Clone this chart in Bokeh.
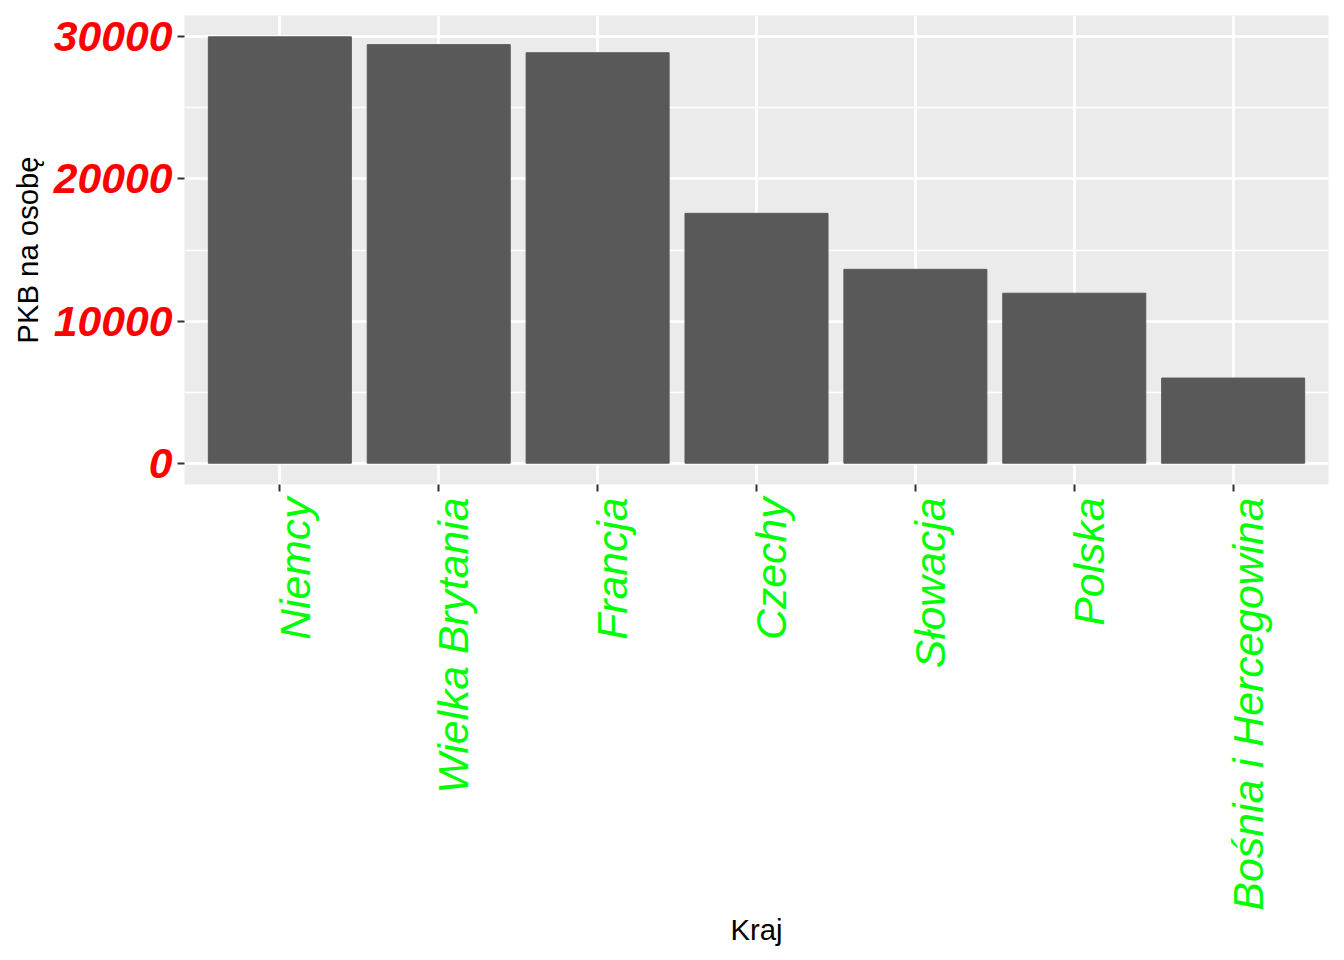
from math import pi

from bokeh.embed import file_html
from bokeh.models import FixedTicker, LinearAxis, Range1d, SingleIntervalTicker
from bokeh.plotting import figure
from bokeh.resources import INLINE

# dane
kraje = ["Niemcy", "Wielka Brytania", "Francja", "Czechy",
         "Słowacja", "Polska", "Bośnia i Hercegowina"]
pkb = [30000, 29450, 28880, 17580, 13640, 11960, 5990]

y_start, y_end = -1500, 31500
pad = 0.6      # margines osi X jak w ggplot (expand = 0.6 kategorii)
shift = 0.093  # przesuniecie etykiet X w prawo, jak w ggplot (hjust/vjust)

# kolejne kategorie na osi liczbowej: 1, 2, ..., n
poz = [i + 1 for i in range(len(kraje))]

p = figure(
    x_range=Range1d(1 - pad, len(kraje) + pad),
    y_range=Range1d(y_start, y_end),
    width=1336,
    height=952,
    min_border_left=184,
    min_border_right=8,
    min_border_top=15,
    min_border_bottom=468,
    toolbar_location=None,
    output_backend="svg",
)

p.vbar(x=poz, top=pkb, width=0.9, color="#595959")

p.background_fill_color = "#EBEBEB"
p.border_fill_color = "white"
p.outline_line_color = None

p.xaxis.ticker = FixedTicker(ticks=poz)
p.xgrid.ticker = FixedTicker(ticks=poz)
p.yaxis.ticker = SingleIntervalTicker(interval=10000, num_minor_ticks=2)

# siatka
p.xgrid.grid_line_color = "white"
p.xgrid.grid_line_width = 2.7
p.ygrid.grid_line_color = "white"
p.ygrid.grid_line_width = 2.7
p.ygrid.minor_grid_line_color = "white"
p.ygrid.minor_grid_line_width = 1.3

for ax in (p.xaxis, p.yaxis):
    ax.axis_line_color = None
    ax.major_tick_line_color = "#333333"
    ax.major_tick_line_width = 2
    ax.major_tick_out = 7
    ax.major_tick_in = 0
    ax.minor_tick_line_color = None
    ax.axis_label_text_font = "Liberation Sans"
    ax.axis_label_text_font_style = "normal"
    ax.axis_label_text_font_size = "29.3px"
    ax.axis_label_text_color = "black"
    ax.major_label_text_font = "Liberation Sans"
    ax.major_label_text_font_size = "42.7px"

p.yaxis.axis_label = "PKB na osobę"
p.yaxis.major_label_text_color = "#FF0000"
p.yaxis.major_label_text_font_style = "bold italic"
p.yaxis.major_label_standoff = 5
p.yaxis.axis_label_standoff = 7

# os kategorii: tylko kreski
p.xaxis.major_label_text_color = None
p.xaxis.major_label_standoff = 0

# druga os pod spodem: nazwy krajow
poz_etykiet = [round(x + shift, 3) for x in poz]
os_etykiet = LinearAxis(
    ticker=FixedTicker(ticks=poz_etykiet),
    major_label_overrides={x: k for x, k in zip(poz_etykiet, kraje)},
    major_label_orientation=pi / 2,
    major_label_standoff=6,
    major_label_text_font="Liberation Sans",
    major_label_text_font_size="42.7px",
    major_label_text_font_style="italic",
    major_label_text_color="#00FF00",
    major_tick_line_color=None,
    major_tick_out=0,
    major_tick_in=0,
    minor_tick_line_color=None,
    axis_line_color=None,
    axis_label="Kraj",
    axis_label_standoff=0,
    axis_label_text_font="Liberation Sans",
    axis_label_text_font_style="normal",
    axis_label_text_font_size="29.3px",
    axis_label_text_color="black",
)
p.add_layout(os_etykiet, "below")

open("out.html", "w").write(file_html(p, INLINE))
